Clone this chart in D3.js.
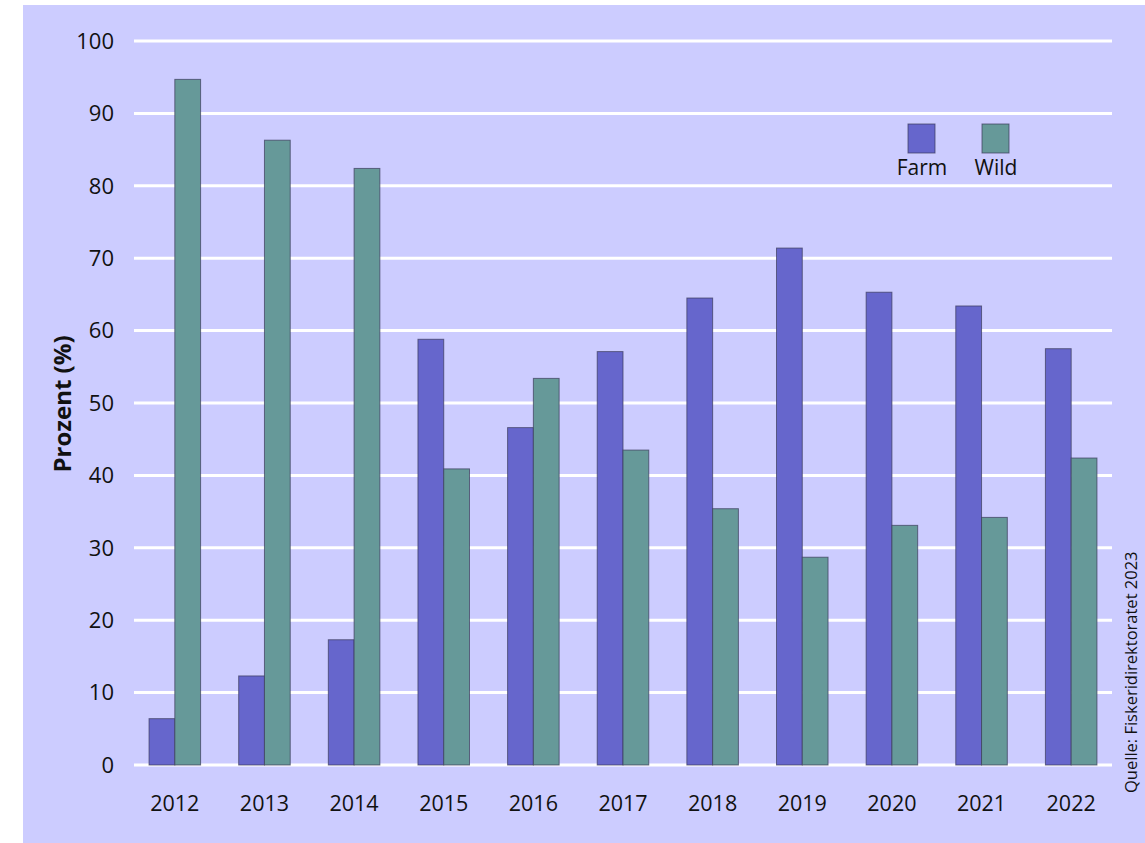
<!DOCTYPE html>
<html>
<head>
<meta charset="utf-8">
<script src="https://cdn.jsdelivr.net/npm/d3@7"></script>
<style>
  body { margin: 0; background: #fff; }
  svg text { font-family: "Open Sans", sans-serif; fill: #111; }
</style>
</head>
<body>
<svg id="chart"></svg>
<script>
var years = ["2012", "2013", "2014", "2015", "2016", "2017", "2018", "2019", "2020", "2021", "2022"];
var farm = [6.4, 12.3, 17.3, 58.8, 46.6, 57.1, 64.5, 71.4, 65.3, 63.4, 57.5];
var wild = [94.7, 86.3, 82.4, 40.9, 53.4, 43.5, 35.4, 28.7, 33.1, 34.2, 42.4];
var seriesNames = ["Farm", "Wild"];
var seriesColors = ["#6666cc", "#669999"];
var yTicks = [0, 10, 20, 30, 40, 50, 60, 70, 80, 90, 100];

var width = 1145, height = 843;

var svg = d3.select("#chart")
  .attr("width", width)
  .attr("height", height);

// panel background
svg.append("rect")
  .attr("x", 23).attr("y", 5)
  .attr("width", width - 23).attr("height", height - 5)
  .attr("fill", "#ccccff");

var x = d3.scaleBand()
  .domain(years)
  .range([130, 1116])
  .paddingInner(0.425)
  .paddingOuter(0.2125);

var xSub = d3.scaleBand()
  .domain(seriesNames)
  .range([0, x.bandwidth()]);

var y = d3.scaleLinear()
  .domain([0, 100])
  .range([765, 41]);

// gridlines
svg.append("g")
  .selectAll("line")
  .data(yTicks)
  .enter().append("line")
  .attr("x1", 134).attr("x2", 1112)
  .attr("y1", function (d) { return y(d); })
  .attr("y2", function (d) { return y(d); })
  .attr("stroke", "#ffffff")
  .attr("stroke-width", 3);

// y tick labels
svg.append("g")
  .selectAll("text")
  .data(yTicks)
  .enter().append("text")
  .attr("x", 114)
  .attr("y", function (d) { return y(d); })
  .attr("dy", "0.35em")
  .attr("text-anchor", "end")
  .style("font-size", "22px")
  .text(function (d) { return d; });

// bars
var rows = years.map(function (yr, i) {
  return { year: yr, values: [farm[i], wild[i]] };
});

var groups = svg.append("g")
  .selectAll("g")
  .data(rows)
  .enter().append("g")
  .attr("transform", function (d) { return "translate(" + x(d.year) + ",0)"; });

groups.selectAll("rect")
  .data(function (d) {
    return d.values.map(function (v, j) { return { key: seriesNames[j], value: v, idx: j }; });
  })
  .enter().append("rect")
  .attr("x", function (d) { return xSub(d.key); })
  .attr("y", function (d) { return y(d.value); })
  .attr("width", xSub.bandwidth())
  .attr("height", function (d) { return y(0) - y(d.value); })
  .attr("fill", function (d) { return seriesColors[d.idx]; })
  .attr("stroke", "#3a3a5a")
  .attr("stroke-opacity", 0.7)
  .attr("stroke-width", 1);

// x labels
svg.append("g")
  .selectAll("text")
  .data(years)
  .enter().append("text")
  .attr("x", function (d) { return x(d) + x.bandwidth() / 2; })
  .attr("y", 811)
  .attr("text-anchor", "middle")
  .style("font-size", "21.5px")
  .text(function (d) { return d; });

// y axis title
svg.append("text")
  .attr("transform", "translate(71,404) rotate(-90)")
  .attr("text-anchor", "middle")
  .style("font-size", "24px")
  .style("font-weight", "bold")
  .text("Prozent (%)");

// legend
var legendX = [908, 982];
var legend = svg.append("g")
  .selectAll("g")
  .data(seriesNames)
  .enter().append("g")
  .attr("transform", function (d, i) { return "translate(" + legendX[i] + ",124)"; });

legend.append("rect")
  .attr("width", 27).attr("height", 29)
  .attr("fill", function (d, i) { return seriesColors[i]; })
  .attr("stroke", "#3a3a5a")
  .attr("stroke-opacity", 0.7);

legend.append("text")
  .attr("x", 14)
  .attr("y", 51)
  .attr("text-anchor", "middle")
  .style("font-size", "21px")
  .text(function (d) { return d; });

// source note
svg.append("text")
  .attr("transform", "translate(1137,793) rotate(-90)")
  .attr("text-anchor", "start")
  .style("font-size", "16.5px")
  .text("Quelle: Fiskeridirektoratet 2023");
</script>
</body>
</html>
